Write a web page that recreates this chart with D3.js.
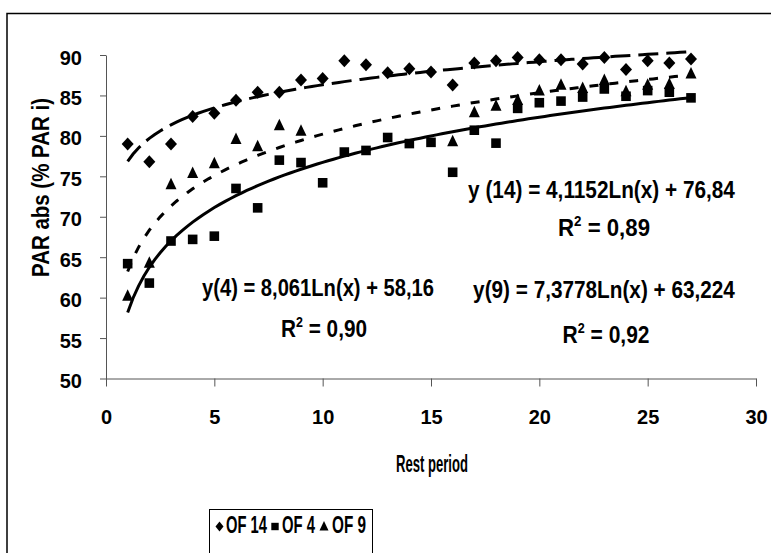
<!DOCTYPE html>
<html><head><meta charset="utf-8">
<script src="https://cdn.jsdelivr.net/npm/d3@7"></script>
<style>
body{margin:0;background:#fff}
text{font-family:'Liberation Sans Narrow','Arial Narrow','Liberation Sans',Arial,sans-serif;font-weight:bold;fill:#000}
</style>
</head><body><svg id="c" width="771" height="553"></svg>
<script>
// ---- data ----
const days = [1,2,3,4,5,6,7,8,9,10,11,12,13,14,15,16,17,18,19,20,21,22,23,24,25,26,27];
const of14 = [79.0,76.8,79.0,82.4,82.8,84.4,85.4,85.4,86.9,87.1,89.3,88.8,87.8,88.3,87.9,86.3,89.0,89.3,89.7,89.4,89.4,88.9,89.7,88.2,89.3,89.0,89.5];
const of4  = [64.2,61.8,67.0,67.2,67.6,73.5,71.1,77.0,76.7,74.2,78.0,78.2,79.8,79.05,79.2,75.5,80.7,79.1,83.4,84.1,84.3,84.8,85.8,84.9,85.6,85.4,84.7];
const daysOF9 = [1,2,3,4,5,6,7,8,9,16,17,18,19,20,21,22,23,24,25,26,27];
const of9  = [60.1,64.2,73.9,75.3,76.5,79.5,78.6,81.2,80.5,79.2,82.8,83.6,84.3,85.5,86.2,85.8,86.8,85.4,86.2,86.3,87.6];
const trendCoef = {of14:[4.1152,76.84], of4:[8.061,58.16], of9:[7.3778,63.224]};
const xTicks = [0,5,10,15,20,25,30];
const yTicks = [50,55,60,65,70,75,80,85,90];
const legendLabels = ["OF 14","OF 4","OF 9"];
const eqLabels = [
  {t:"y (14) = 4,1152Ln(x) + 76,84", r:"0,89"},
  {t:"y(4) = 8,061Ln(x) + 58,16", r:"0,90"},
  {t:"y(9) = 7,3778Ln(x) + 63,224", r:"0,92"}
];

const svg = d3.select("#c");
const x = d3.scaleLinear().domain([0,30]).range([106,756]);
const y = d3.scaleLinear().domain([50,90]).range([378.5,55]);

// outer frame
svg.append("rect").attr("x",7).attr("y",13.5).attr("width",820).attr("height",620)
  .attr("fill","none").attr("stroke","#000").attr("stroke-width",1.5);

// axes
const ya = svg.append("g").attr("transform","translate(106,0)")
  .call(d3.axisLeft(y).tickValues(yTicks).tickSize(6).tickSizeOuter(0).tickPadding(18));
ya.selectAll("text").style("font-size","20px").attr("dy","0.45em");
const xa = svg.append("g").attr("transform","translate(0,378.5)")
  .call(d3.axisBottom(x).tickValues(xTicks).tickSize(8).tickSizeOuter(0).tickPadding(23));
xa.selectAll("text").style("font-size","20px");
svg.selectAll(".domain, .tick line").attr("stroke","#555").attr("stroke-width",1);
svg.selectAll(".tick text").attr("font-family",null).attr("fill","#000");

function fit(sel, w){
  const n = sel.node(); const cw = n.getComputedTextLength();
  const cx = +sel.attr("data-cx"), cy = +sel.attr("data-cy"), rot = sel.attr("data-rot")||0;
  sel.attr("x",0).attr("y",0).attr("transform",`translate(${cx},${cy}) rotate(${rot}) scale(${w/cw},1)`);
}
function label(txt, cx, cy, fs, w, rot){
  const t = svg.append("text").attr("text-anchor","middle").style("font-size",fs+"px")
    .attr("data-cx",cx).attr("data-cy",cy).attr("data-rot",rot||0).text(txt);
  fit(t,w); return t;
}
function rlabel(val, cx, cy, fs, w){
  const t = svg.append("text").attr("text-anchor","middle").style("font-size",fs+"px")
    .attr("data-cx",cx).attr("data-cy",cy);
  t.append("tspan").text("R");
  t.append("tspan").style("font-size",(fs*0.6)+"px").attr("dy",-fs*0.42).text("2");
  t.append("tspan").attr("dy",fs*0.42).text(" = "+val);
  fit(t,w); return t;
}

// axis titles
label("PAR abs (%  PAR i)", 49, 187.5, 23, 179, -90);
label("Rest period", 432, 472, 23, 72, 0);

// markers
const diamond = "M0,-6.5L6,0L0,6.5L-6,0Z";
const square = "M-4.8,-4.8H4.8V4.8H-4.8Z";
const tri = "M0,-7L5.5,4.5H-5.5Z";
svg.append("g").selectAll("path").data(days).join("path")
  .attr("d",diamond).attr("transform",(d,i)=>`translate(${x(d)},${y(of14[i])})`);
svg.append("g").selectAll("path").data(days).join("path")
  .attr("d",square).attr("transform",(d,i)=>`translate(${x(d)},${y(of4[i])})`);
svg.append("g").selectAll("path").data(daysOF9).join("path")
  .attr("d",tri).attr("transform",(d,i)=>`translate(${x(d)},${y(of9[i])-0.5})`);

// trendlines
const xs = d3.range(1,27.001,0.25);
const line = d3.line().x(d=>x(d[0])).y(d=>y(d[1]));
function trend(c, dash){
  svg.append("path").attr("d",line(xs.map(v=>[v,c[0]*Math.log(v)+c[1]])))
    .attr("fill","none").attr("stroke","#000").attr("stroke-width",3)
    .attr("stroke-dasharray",dash);
}
trend(trendCoef.of4,null);
trend(trendCoef.of14,"20,8");
trend(trendCoef.of9,"9,11");

// equations
label(eqLabels[0].t, 601.5, 198, 24, 267);
rlabel(eqLabels[0].r, 604, 236, 24, 92);
label(eqLabels[1].t, 318, 296, 24, 232);
rlabel(eqLabels[1].r, 324, 337, 24, 86);
label(eqLabels[2].t, 604, 298, 24, 262);
rlabel(eqLabels[2].r, 606, 343, 24, 87);

// legend
svg.append("rect").attr("x",209.5).attr("y",509.5).attr("width",163).attr("height",80)
  .attr("fill","#fff").attr("stroke","#000").attr("stroke-width",1);
const lg = svg.append("g");
const lgSym = ["M0,-5L4,0L0,5L-4,0Z","M-3.7,-3.7H3.7V3.7H-3.7Z","M0,-5.5L4.5,4H-4.5Z"];
const lgSymX = [219.5,275,324];
const lgTxtX = [246.5,298.5,349];
const lgW = [41,33,34];
lgSym.forEach((p,i)=>{
  lg.append("path").attr("d",p).attr("transform",`translate(${lgSymX[i]},526.5)`);
  label(legendLabels[i], lgTxtX[i], 533, 23, lgW[i]);
});
</script></body></html>
